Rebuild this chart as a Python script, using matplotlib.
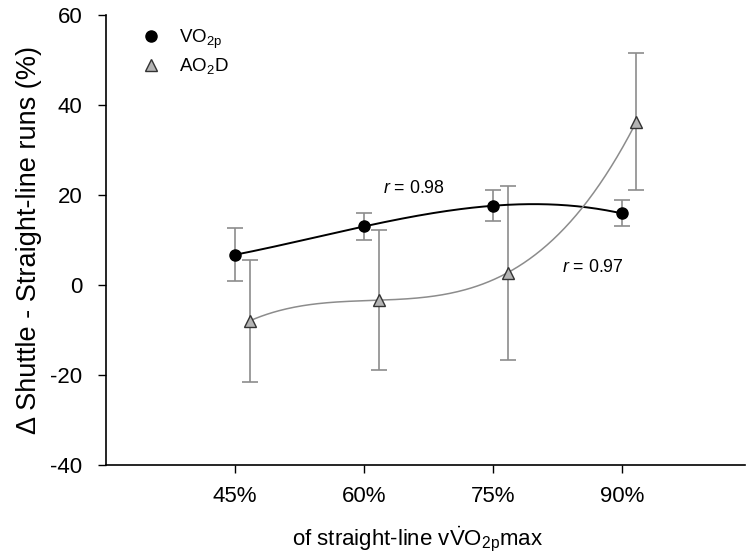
import numpy as np
import matplotlib
matplotlib.use("Agg")
import matplotlib.pyplot as plt

plt.rcParams['font.family'] = ['Liberation Sans', 'DejaVu Sans']
plt.rcParams['mathtext.fontset'] = 'custom'
plt.rcParams['mathtext.rm'] = 'Liberation Sans'
plt.rcParams['mathtext.it'] = 'Liberation Sans:italic'
plt.rcParams['axes.unicode_minus'] = False

# --- data
intensity = [45, 60, 75, 90]
tick_labels = ["45%", "60%", "75%", "90%"]
vo2p = [6.7, 13.0, 17.6, 15.9]
vo2p_err = [5.9, 3.0, 3.4, 2.9]
ao2d = [-8.0, -3.4, 2.7, 36.3]
ao2d_err = [13.5, 15.5, 19.3, 15.3]
ao2d_shift = 1.7   # triangles sit a bit right of the circles

fig = plt.figure(figsize=(7.47, 5.58), dpi=100)
ax = fig.add_axes([0.142, 0.167, 0.855, 0.806])

x1 = np.array(intensity, dtype=float)
x2 = x1 + ao2d_shift

# cubic fit lines
xs1 = np.linspace(x1[0], x1[-1], 200)
ax.plot(xs1, np.polyval(np.polyfit(x1, vo2p, 3), xs1), color="black", lw=1.4, zorder=2)
xs2 = np.linspace(x2[0], x2[-1], 200)
ax.plot(xs2, np.polyval(np.polyfit(x2, ao2d, 3), xs2), color="#8c8c8c", lw=1.1, zorder=2)

ax.errorbar(x1, vo2p, yerr=vo2p_err, fmt="none", ecolor="#8c8c8c", elinewidth=1.2,
            capsize=6, capthick=1.2, zorder=1)
ax.errorbar(x2, ao2d, yerr=ao2d_err, fmt="none", ecolor="#8c8c8c", elinewidth=1.2,
            capsize=6, capthick=1.2, zorder=1)
ax.plot(x1, vo2p, "o", color="black", ms=8, zorder=3, label="VO$_{2\\mathrm{p}}$")
ax.plot(x2, ao2d, "^", mfc="#b4b4b4", mec="#333333", mew=1.0, ms=8.5, zorder=3,
        label="AO$_2$D")

ax.text(62.2, 21.5, "$r$ = 0.98", fontsize=12.8, va="center")
ax.text(83.0, 3.8, "$r$ = 0.97", fontsize=12.8, va="center")

ax.set_xlim(30, 104.3)
ax.set_ylim(-40, 60)
ax.set_xticks(intensity)
ax.set_xticklabels(tick_labels)
ax.set_yticks(np.arange(-40, 61, 20))
ax.tick_params(axis="both", direction="out", length=6, width=1, labelsize=16)
ax.tick_params(axis="x", pad=9)
ax.tick_params(axis="y", pad=11)
for s in ["top", "right"]:
    ax.spines[s].set_visible(False)
ax.spines["left"].set_linewidth(1.2)
ax.spines["bottom"].set_linewidth(1.2)

ax.set_ylabel("Δ Shuttle - Straight-line runs (%)", fontsize=19.5, labelpad=6)
ax.set_xlabel("of straight-line v$\\dot{\\mathrm{V}}$O$_{2\\mathrm{p}}$max", fontsize=16, labelpad=13)
ax.xaxis.label.set_x(0.487)

ax.legend(loc="upper left", bbox_to_anchor=(0.026, 1.01), frameon=False, fontsize=13.5,
          handletextpad=0.9, labelspacing=0.3, handlelength=1.2)

fig.savefig("out.png", dpi=100)
